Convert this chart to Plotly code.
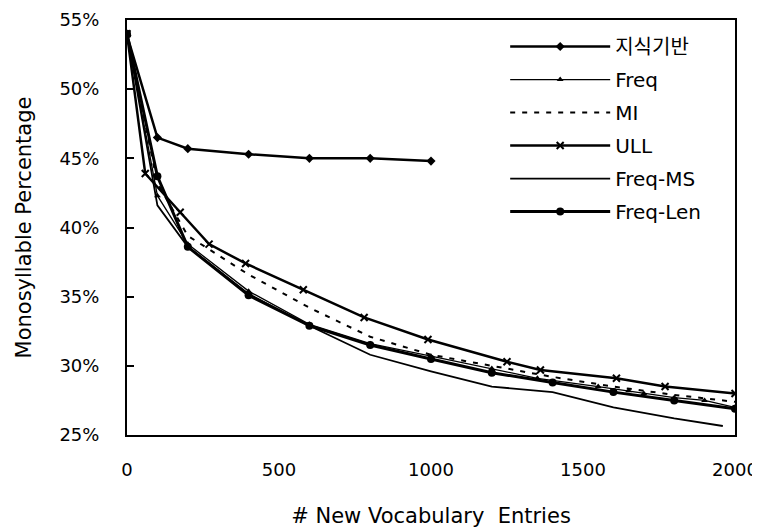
import plotly.graph_objects as go

# ---- data ----
x_kb = [0, 100, 200, 400, 600, 800, 1000]
y_kb = [53.9, 46.5, 45.7, 45.3, 45.0, 45.0, 44.8]

x_freq = [0, 100, 200, 400, 600, 800, 1000, 1200, 1350, 1550, 1650, 1700, 1800, 1900, 2000]
y_freq = [54.0, 42.3, 38.8, 35.4, 33.0, 31.6, 30.7, 29.8, 29.1, 28.5, 28.2, 28.0, 27.7, 27.5, 27.0]

x_mi = [0, 100, 200, 400, 600, 800, 1000, 1200, 1400, 1600, 1800, 2000]
y_mi = [54.0, 43.2, 39.4, 36.6, 34.2, 32.1, 30.8, 30.0, 29.2, 28.5, 27.9, 27.4]

x_ull = [0, 60, 175, 270, 390, 580, 780, 990, 1250, 1360, 1610, 1770, 2000]
y_ull = [54.0, 43.9, 41.1, 38.8, 37.4, 35.5, 33.5, 31.9, 30.3, 29.7, 29.1, 28.5, 28.0]

x_ms = [0, 100, 200, 400, 600, 800, 1000, 1200, 1400, 1600, 1800, 1960]
y_ms = [54.0, 41.6, 38.6, 35.2, 32.9, 30.8, 29.6, 28.5, 28.1, 27.0, 26.2, 25.65]

x_len = [0, 100, 200, 400, 600, 800, 1000, 1200, 1400, 1600, 1800, 2000]
y_len = [54.0, 43.7, 38.6, 35.1, 32.9, 31.5, 30.5, 29.5, 28.8, 28.1, 27.5, 26.9]

names = ["지식기반", "Freq", "MI", "ULL", "Freq-MS", "Freq-Len"]
xs = [x_kb, x_freq, x_mi, x_ull, x_ms, x_len]
ys = [y_kb, y_freq, y_mi, y_ull, y_ms, y_len]

x_ticks = [0, 500, 1000, 1500, 2000]
y_ticks = [25, 30, 35, 40, 45, 50, 55]
y_tick_text = ["25%", "30%", "35%", "40%", "45%", "50%", "55%"]

styles = [
    dict(mode="lines+markers", line=dict(color="black", width=2.5),
         marker=dict(symbol="diamond", size=7, color="black")),
    dict(mode="lines+markers", line=dict(color="black", width=1.3),
         marker=dict(symbol="triangle-up", size=6, color="black")),
    dict(mode="lines", line=dict(color="black", width=2, dash="5px,7px")),
    dict(mode="lines+markers", line=dict(color="black", width=2.5),
         marker=dict(symbol="x-thin", size=7, color="black", line=dict(width=2, color="black"))),
    dict(mode="lines", line=dict(color="black", width=1.8)),
    dict(mode="lines+markers", line=dict(color="black", width=3),
         marker=dict(symbol="circle", size=8, color="black")),
]

fig = go.Figure()
for i, (n, x, y, s) in enumerate(zip(names, xs, ys, styles)):
    fig.add_trace(go.Scatter(x=x, y=y, name=n, legendgroup=f"g{i}", **s))

font_family = "DejaVu Sans, Noto Sans CJK KR, sans-serif"

# the page body has an 8px margin, so the figure is 8px smaller and shifted
fig.update_layout(
    width=752, height=520,
    margin=dict(l=119, r=25, t=12, b=93),
    paper_bgcolor="white", plot_bgcolor="white",
    font=dict(family=font_family, size=18, color="black"),
    showlegend=True,
    legend=dict(
        x=0.622, y=0.983, xanchor="left", yanchor="top",
        bgcolor="rgba(0,0,0,0)", borderwidth=0,
        font=dict(size=20, family=font_family),
        itemwidth=100, traceorder="grouped", tracegroupgap=4,
    ),
    xaxis=dict(
        range=[0, 2000], tickvals=x_ticks, automargin=False,
        showline=True, linecolor="black", linewidth=2, mirror=True,
        showgrid=False, zeroline=False, ticks="", ticklabelstandoff=17,
        tickfont=dict(size=18),
        title=dict(text="# New Vocabulary  Entries", standoff=36,
                   font=dict(size=21)),
    ),
    yaxis=dict(
        range=[25, 55], tickvals=y_ticks, ticktext=y_tick_text, automargin=False,
        showline=True, linecolor="black", linewidth=2, mirror=True,
        showgrid=False, zeroline=False, ticks="inside", ticklen=7, tickwidth=2,
        tickcolor="black", ticklabelstandoff=22,
        tickfont=dict(size=18),
        title=dict(text="Monosyllable Percentage", standoff=22,
                   font=dict(size=21)),
    ),
)

fig.write_html("out.html")
